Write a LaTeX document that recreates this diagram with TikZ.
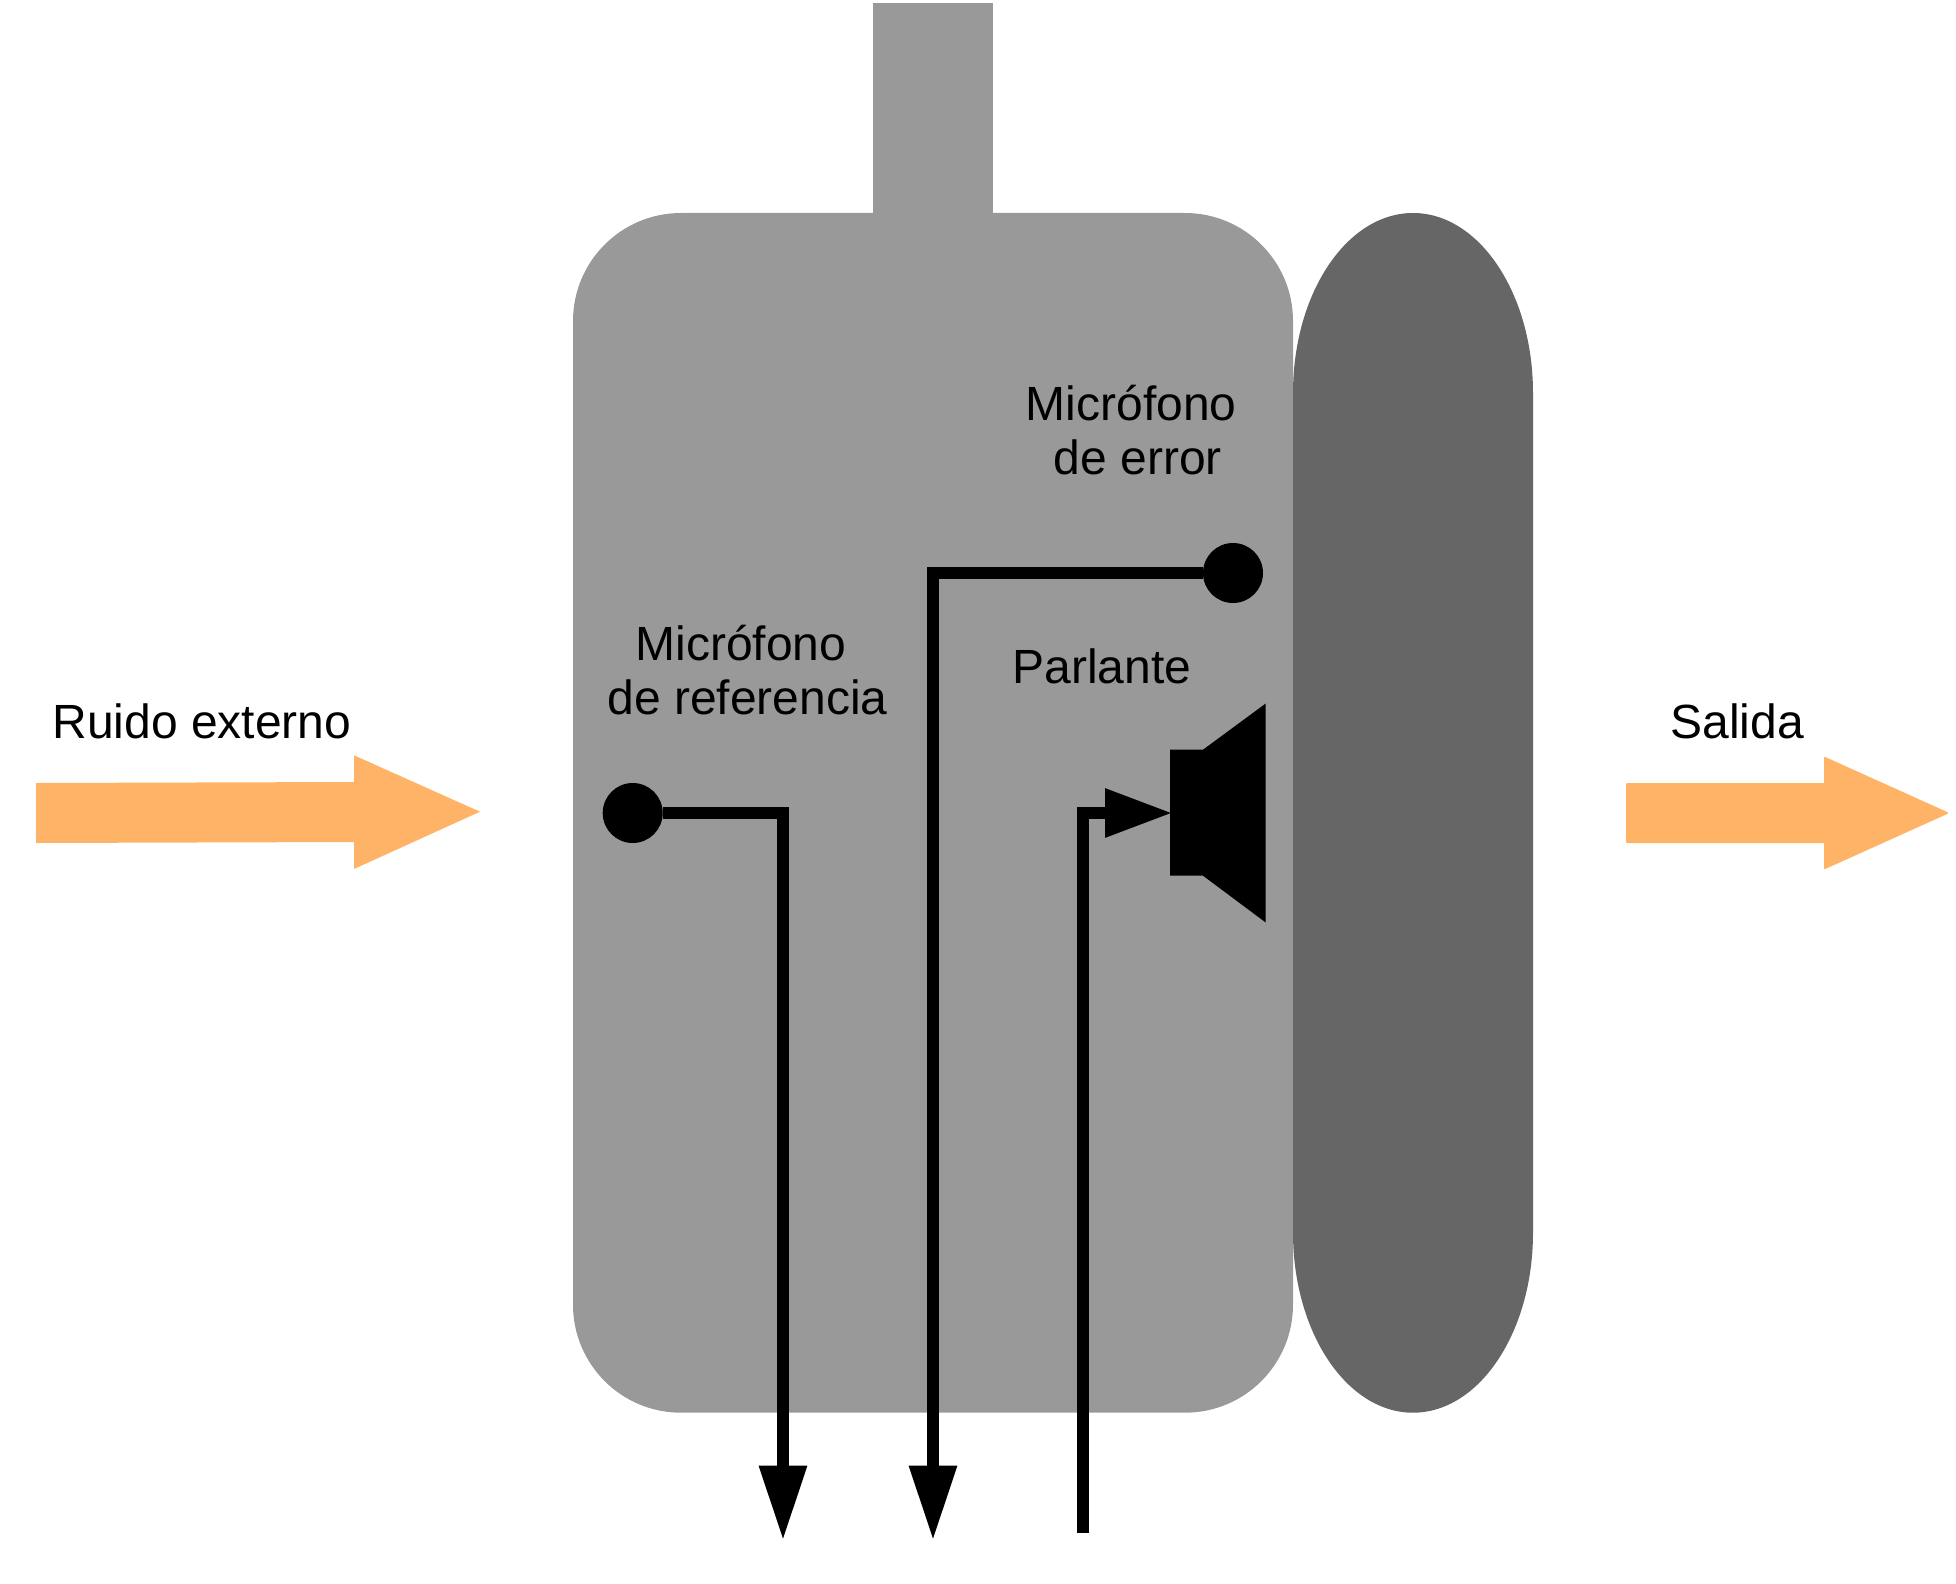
\documentclass[tikz,border=0pt]{standalone}
\usepackage{fontspec}
\setmainfont{Liberation Sans}
\usetikzlibrary{arrows.meta}
\definecolor{bodygray}{HTML}{999999}
\definecolor{padgray}{HTML}{666666}
\definecolor{flow}{HTML}{FFB366}
\tikzset{
  label text/.style={inner sep=0pt, font=\fontsize{24}{26.67}\selectfont, text=black},
  two lines/.style={label text, align=center},
  mic/.style={circle, fill=black, inner sep=0pt, minimum size=30pt},
  wire/.style={draw=black, line width=6pt, line join=miter, line cap=butt},
  wire tip/.style={wire, -{Triangle[length=37.5pt,width=22.6pt]}},
  speaker tip/.style={wire, -{Triangle[length=33.7pt,width=23pt]}},
}
\begin{document}
\begin{tikzpicture}[x=0.5pt,y=-0.5pt]
\useasboundingbox (0,0) rectangle (1956,1584);
% headset body
\fill[bodygray] (873,3) rectangle (993,230);
\fill[bodygray, rounded corners=54pt] (573,213) rectangle (1293,1412.7);
% ear pad
\fill[padgray] (1293,393) .. controls (1293,293.6) and (1346.7,213) .. (1413,213)
  .. controls (1479.3,213) and (1533,293.6) .. (1533,393)
  -- (1533,1232.7) .. controls (1533,1332.1) and (1479.3,1412.7) .. (1413,1412.7)
  .. controls (1346.7,1412.7) and (1293,1332.1) .. (1293,1232.7) -- cycle;
% orange flow arrows
\fill[flow] (36,783) -- (354,782) -- (354,755.3) -- (480,811.7) -- (354,869) -- (354,842) -- (36,843) -- cycle;
\filldraw[fill=flow, draw=flow, line width=1pt, line join=round]
  (1627,784) -- (1825,784) -- (1825,758) -- (1947,813) -- (1825,868) -- (1825,842) -- (1627,842) -- cycle;
% speaker
\fill[black] (1170,749.7) -- (1203,749.7) -- (1265.7,703.5) -- (1265.7,922.5) -- (1203,875.7) -- (1170,875.7) -- cycle;
% microphones
\node[mic] (micref) at (632.7,813) {};
\node[mic] (micerr) at (1233,573) {};
% wire ends
\coordinate (tipref) at (783,1540.5);
\coordinate (tiperr) at (933,1540.5);
\coordinate (spkin) at (1172.5,813);
\coordinate (drive) at (1083,1533);
\draw[wire tip] (micref) -| (tipref);
\draw[wire tip] (micerr) -| (tiperr);
\draw[speaker tip] (drive) |- (spkin);
% labels
\node[label text, anchor=base west] (ruido) at (52,738) {Ruido externo};
\node[label text, anchor=base west] (salida) at (1670,738) {Salida};
\node[label text, anchor=base west] (parlante) at (1012,683.5) {Parlante};
\node[two lines, anchor=base] (lblref) at (747.5,714) {Micrófono\mbox{\ }\\de referencia};
\node[two lines, anchor=base] (lblerr) at (1138,474) {Micrófono\mbox{\ }\\de error};
\end{tikzpicture}
\end{document}
